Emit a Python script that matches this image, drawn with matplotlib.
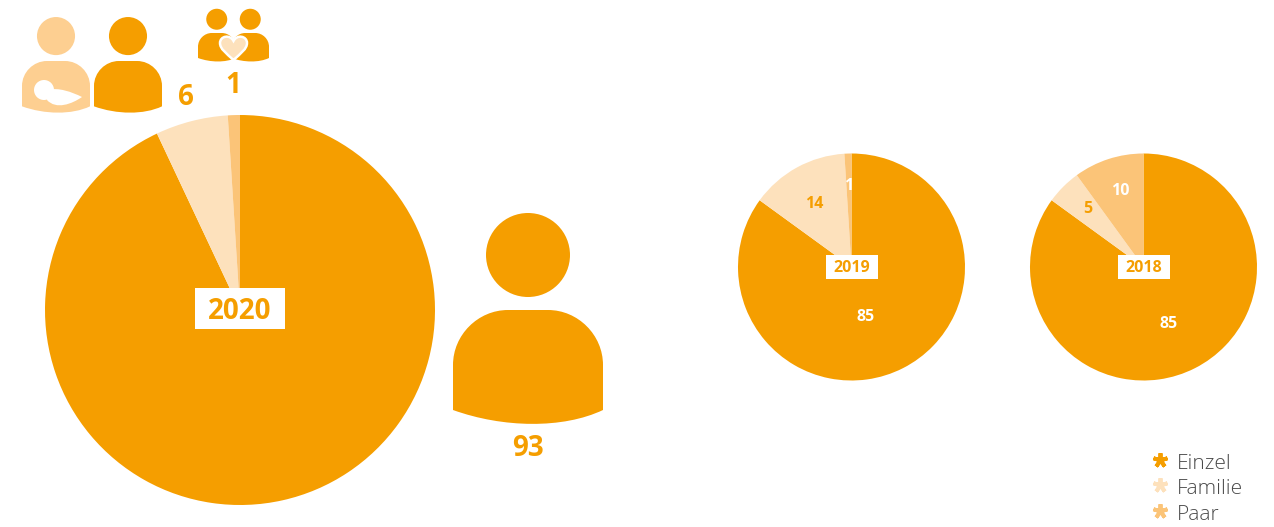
import matplotlib
matplotlib.use("Agg")
import matplotlib.pyplot as plt
from matplotlib.patches import Circle, PathPatch, Rectangle
from matplotlib.path import Path

W, H = 1274, 527

# Data
categories = ["Einzel", "Familie", "Paar"]
values_2020 = [93, 6, 1]
values_2019 = [85, 14, 1]
values_2018 = [85, 5, 10]

ORANGE = "#F59E00"
LIGHT = "#FDE1BC"
MID = "#FBC478"
BABY = "#FDCF91"
colors = [ORANGE, LIGHT, MID]

plt.rcParams["font.family"] = ["Open Sans", "DejaVu Sans"]

fig = plt.figure(figsize=(W / 100, H / 100), dpi=100)
ax = fig.add_axes([0, 0, 1, 1])


def y_(y):
    # picture coordinates run top-down
    return H - y


def draw_pie(values, cx, cy, r):
    ax.pie(values, colors=colors, startangle=90, counterclock=False,
           center=(cx, y_(cy)), radius=r, frame=True,
           wedgeprops={"linewidth": 0})


def year_box(text, cx, cy, w, h, size):
    ax.add_patch(Rectangle((cx - w / 2, y_(cy + h / 2)), w, h, fc="white", ec="none", zorder=3))
    label(cx, cy, text, size, ORANGE)


def label(x, y, text, size, color):
    # va=center sits a little high for digits, so push it down with the size
    ax.text(x, y_(y + size * 0.13), text, fontsize=size, fontweight="bold", color=color,
            ha="center", va="center", zorder=4)


def person(x, top, width, color):
    # head and shoulders icon, x is left edge, top is top of the shoulders
    s = width / 150
    ax.add_patch(Circle((x + 75 * s, y_(top - 55 * s)), 42 * s, fc=color, ec="none", zorder=2))
    pts = [(0, 100), (0, 55), (0, 25), (25, 0), (55, 0), (95, 0),
           (125, 0), (150, 25), (150, 55), (150, 100),
           (110, 119), (50, 118), (0, 100), (0, 100)]
    codes = [Path.MOVETO, Path.LINETO, Path.CURVE4, Path.CURVE4, Path.CURVE4, Path.LINETO,
             Path.CURVE4, Path.CURVE4, Path.CURVE4, Path.LINETO,
             Path.CURVE4, Path.CURVE4, Path.CURVE4, Path.CLOSEPOLY]
    verts = [(x + px * s, y_(top + py * s)) for px, py in pts]
    ax.add_patch(PathPatch(Path(verts, codes), fc=color, ec="none", zorder=2))


draw_pie(values_2020, 240, 310, 195)
draw_pie(values_2019, 851.5, 267, 113.5)
draw_pie(values_2018, 1143.5, 267, 113.5)

year_box("2020", 240, 308.5, 90, 41, 20)
year_box("2019", 852, 267, 52, 24, 11.5)
year_box("2018", 1144, 267, 52, 24, 11.5)

# Slice labels
label(866, 316, values_2019[0], 11.5, "white")
label(814, 203, values_2019[1], 11.5, ORANGE)
label(849, 185, values_2019[2], 11.5, "white")
label(1169, 323, values_2018[0], 11.5, "white")
label(1088, 208, values_2018[1], 11.5, ORANGE)
label(1120, 190, values_2018[2], 11.5, "white")

# Big icon labels
label(528, 446, values_2020[0], 20, ORANGE)
label(186, 95, values_2020[1], 20, ORANGE)
label(233, 83, values_2020[2], 20, ORANGE)

# Icons
person(453, 310, 150, ORANGE)
person(94, 61, 68, ORANGE)
person(22, 61, 68, BABY)
person(198, 33, 37.5, ORANGE)
person(231.5, 33, 37.5, ORANGE)

# Baby in the arm of the parent
ax.add_patch(Circle((44, y_(90)), 10, fc="white", ec="none", zorder=3))
baby = [(48, 90), (58, 87), (72, 92), (82, 97), (72, 104), (56, 110), (47, 100), (48, 90)]
baby_codes = [Path.MOVETO, Path.CURVE4, Path.CURVE4, Path.CURVE4,
              Path.CURVE4, Path.CURVE4, Path.CURVE4, Path.CLOSEPOLY]
ax.add_patch(PathPatch(Path([(x, y_(y)) for x, y in baby], baby_codes), fc="white", ec="none", zorder=3))

# Heart between the couple
heart = [(233.5, 60), (226, 53), (220, 49), (220, 43), (220, 36), (230, 34), (233.5, 41),
         (237, 34), (247, 36), (247, 43), (247, 49), (241, 53), (233.5, 60)]
heart_codes = [Path.MOVETO] + [Path.CURVE4] * 12
ax.add_patch(PathPatch(Path([(x, y_(y)) for x, y in heart], heart_codes), fc=LIGHT, ec="white", lw=1.8, zorder=3))

# Legend
for name, color, my, ty in zip(categories, colors, [460, 485, 511], [464, 489, 515]):
    ax.plot([1160], [y_(my)], marker=(5, 2, 0), markersize=10.5, markeredgewidth=2.8,
            color=color, linestyle="none", zorder=3)
    ax.text(1177, y_(ty), name, fontsize=15, fontweight="light", color="#4a4a4a", ha="left", va="center")

ax.set_xlim(0, W)
ax.set_ylim(0, H)
ax.set_aspect("equal")
ax.axis("off")

fig.savefig("out.png", dpi=100)
